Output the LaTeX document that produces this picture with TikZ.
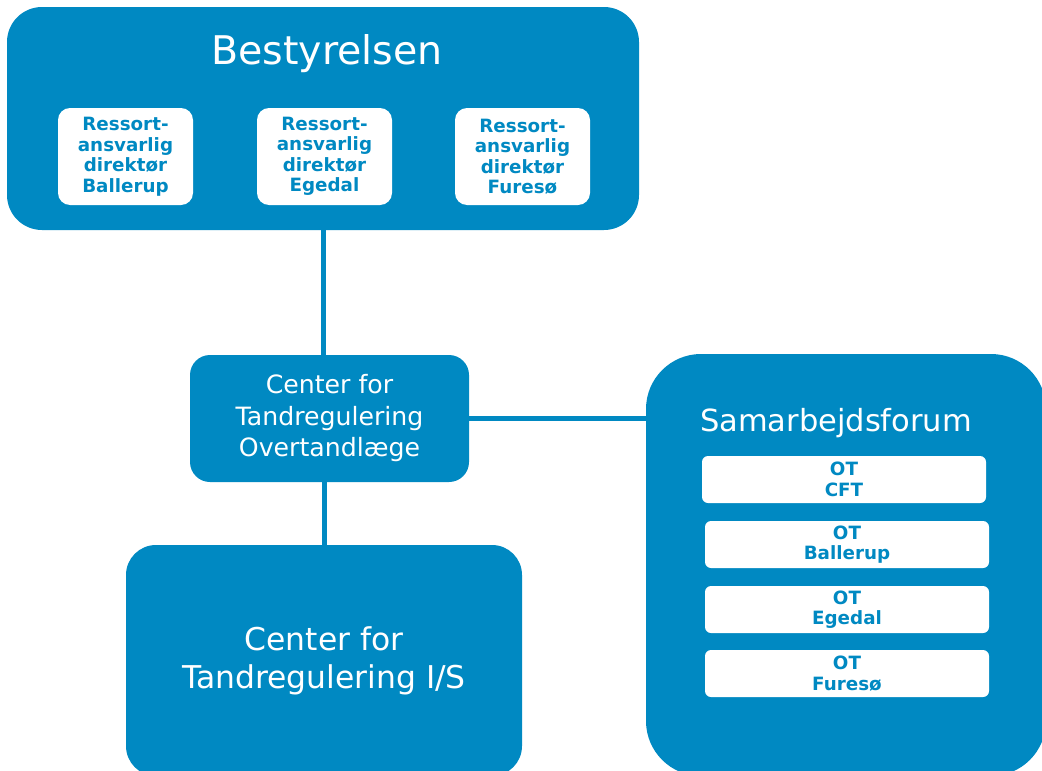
\documentclass[tikz,border=0pt]{standalone}
\usepackage{fontspec}
\setmainfont{DejaVu Sans}
\definecolor{cblue}{RGB}{0,137,194}
\begin{document}
\begin{tikzpicture}[x=1pt,y=-1pt,
  bluebox/.style={fill=cblue, draw=none, inner sep=0pt, text=white, align=center},
  whitebox/.style={fill=white, draw=none, inner sep=0pt, text=cblue, align=center,
     font=\bfseries\fontsize{18.3}{20.5}\selectfont},
  conn/.style={draw=cblue, line width=5pt}]
\useasboundingbox (0,0) rectangle (1042,771);
\clip (0,0) rectangle (1042,771);
% Bestyrelsen
\node[bluebox, minimum width=632pt, minimum height=223pt, rounded corners=35pt] (best) at (323,118.5) {};
\node[text=white, font=\fontsize{39.5}{41}\selectfont, inner sep=0pt] (bt) at (327,54) {Bestyrelsen};
\node[whitebox, minimum width=135pt, minimum height=97pt, rounded corners=12pt] (r1) at (125.5,156.5) {Ressort-\\ansvarlig\\direktør\\Ballerup};
\node[whitebox, minimum width=135pt, minimum height=97pt, rounded corners=12pt] (r2) at (324.5,156.5) {Ressort-\\ansvarlig\\direktør\\Egedal};
\node[whitebox, minimum width=135pt, minimum height=97pt, rounded corners=12pt] (r3) at (522.5,156.5) {Ressort-\\ansvarlig\\direktør\\Furesø};
% Overtandlaege
\node[bluebox, minimum width=279pt, minimum height=127pt, rounded corners=20pt,
  font=\fontsize{25.2}{31.5}\selectfont] (ot) at (329.5,418.5) {Center for\\Tandregulering\\Overtandlæge};
% I/S
\node[bluebox, minimum width=396pt, minimum height=231pt, rounded corners=30pt,
  font=\fontsize{31.4}{38}\selectfont] (is) at (324,660.5) {Center for\\Tandregulering I/S};
% Samarbejdsforum
\node[bluebox, minimum width=400pt, minimum height=422pt, rounded corners=55pt] (sf) at (846,565) {};
\node[text=white, font=\fontsize{30.5}{32}\selectfont, inner sep=0pt] (st) at (836,423) {Samarbejdsforum};
\node[whitebox, minimum width=284pt, minimum height=47pt, rounded corners=6pt] (o1) at (844,479.5) {OT\\CFT};
\node[whitebox, minimum width=284pt, minimum height=47pt, rounded corners=6pt] (o2) at (847,544.5) {OT\\Ballerup};
\node[whitebox, minimum width=284pt, minimum height=47pt, rounded corners=6pt] (o3) at (847,609.5) {OT\\Egedal};
\node[whitebox, minimum width=284pt, minimum height=47pt, rounded corners=6pt] (o4) at (847,673.5) {OT\\Furesø};
% connectors
\draw[conn] (best.south) -- (best.south |- ot.north);
\draw[conn] (is.north |- ot.south) -- (is.north);
\draw[conn] (ot.east) -- (ot.east -| sf.west);
\end{tikzpicture}
\end{document}
